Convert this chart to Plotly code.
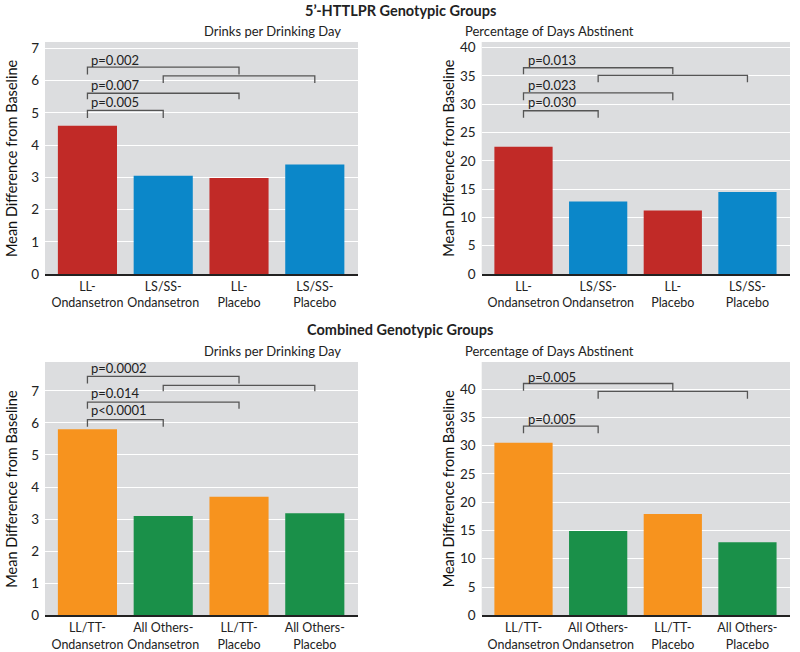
import plotly.graph_objects as go

# ---------------- data ----------------
top_categories = ["LL-<br>Ondansetron", "LS/SS-<br>Ondansetron", "LL-<br>Placebo", "LS/SS-<br>Placebo"]
bottom_categories = ["LL/TT-<br>Ondansetron", "All Others-<br>Ondansetron", "LL/TT-<br>Placebo", "All Others-<br>Placebo"]

top_drinks = [4.6, 3.05, 2.98, 3.4]
top_abstinent = [22.5, 12.8, 11.2, 14.5]
bottom_drinks = [5.8, 3.1, 3.7, 3.18]
bottom_abstinent = [30.5, 14.9, 17.9, 12.9]

top_colors = ["#c12a27", "#0b87c9", "#c12a27", "#0b87c9"]
bottom_colors = ["#f7931e", "#1a9049", "#f7931e", "#1a9049"]

# brackets: (x_start_index, x_end_index, y_level, y_drop)
br_top_drinks = [(0, 1, 5.08, 4.84), (0, 2, 5.61, 5.42), (0, 2, 6.42, 6.19), (1, 3, 6.15, 5.93)]
lab_top_drinks = [("p=0.005", 5.33), ("p=0.007", 5.86), ("p=0.002", 6.64)]

br_top_abst = [(0, 1, 28.85, 27.6), (0, 2, 32.0, 30.7), (0, 2, 36.45, 35.3), (1, 3, 35.1, 33.9)]
lab_top_abst = [("p=0.030", 30.4), ("p=0.023", 33.4), ("p=0.013", 37.8)]

br_bot_drinks = [(0, 1, 6.10, 5.88), (0, 2, 6.65, 6.44), (0, 2, 7.45, 7.23), (1, 3, 7.17, 6.99)]
lab_bot_drinks = [("p<0.0001", 6.40), ("p=0.014", 6.93), ("p=0.0002", 7.70)]

br_bot_abst = [(0, 1, 33.45, 32.2), (0, 2, 41.0, 39.7), (1, 3, 39.6, 38.3)]
lab_bot_abst = [("p=0.005", 34.7), ("p=0.005", 42.2)]

FONT = "Lato"
BG = "#dcdddf"
LINE = "#555555"
TXT = "#222"
W, H = 800, 652


def px_x(p):
    return p / W


def px_y(p):
    return 1 - p / H


XL = [px_x(45), px_x(358)]
XR = [px_x(481.7), px_x(790)]
YT = [px_y(274), px_y(42)]
YB = [px_y(615.3), px_y(362)]

panels = [
    # (values, colors, cats, brackets, labels, yrange, dtick, xdomain, ydomain, title)
    (top_drinks, top_colors, top_categories, br_top_drinks, lab_top_drinks, [0, 7.2], 1,
     XL, YT, "Drinks per Drinking Day"),
    (top_abstinent, top_colors, top_categories, br_top_abst, lab_top_abst, [0, 41], 5,
     XR, YT, "Percentage of Days Abstinent"),
    (bottom_drinks, bottom_colors, bottom_categories, br_bot_drinks, lab_bot_drinks, [0, 7.9], 1,
     XL, YB, "Drinks per Drinking Day"),
    (bottom_abstinent, bottom_colors, bottom_categories, br_bot_abst, lab_bot_abst, [0, 44.8], 5,
     XR, YB, "Percentage of Days Abstinent"),
]

fig = go.Figure()
annotations = []
layout = {}

for i, (vals, cols, cats, brs, labs, yr, dt, xd, yd, title) in enumerate(panels):
    n = "" if i == 0 else str(i + 1)
    xa, ya = "x" + n, "y" + n
    xs = list(range(len(vals)))
    fig.add_trace(go.Bar(x=xs, y=vals, marker=dict(color=cols, line=dict(width=0)),
                         width=0.78, xaxis=xa, yaxis=ya, showlegend=False))
    # brackets
    for (a, b, yl, yd_) in brs:
        fig.add_trace(go.Scatter(x=[a, a, b, b], y=[yd_, yl, yl, yd_], mode="lines",
                                 line=dict(color=LINE, width=1.3), xaxis=xa, yaxis=ya,
                                 showlegend=False, hoverinfo="skip"))
    for (txt, yy) in labs:
        annotations.append(dict(x=0, y=yy, xref=xa, yref=ya, text=txt, showarrow=False,
                                xanchor="left", yanchor="middle", xshift=2,
                                font=dict(family=FONT, size=13, color=TXT)))
    layout["xaxis" + n] = dict(domain=xd, anchor=ya, range=[-0.56, 3.57], automargin=False,
                               tickvals=xs, ticktext=cats, showgrid=False, zeroline=False,
                               showline=True, linecolor="#222", linewidth=2, tickangle=0,
                               tickfont=dict(family=FONT, size=12.5, color=TXT), ticks="")
    layout["yaxis" + n] = dict(domain=yd, anchor=xa, range=yr, dtick=dt, showgrid=True,
                               automargin=False,
                               gridcolor="white", gridwidth=1.3, zeroline=False,
                               tickfont=dict(family=FONT, size=13.5, color=TXT),
                               ticklabelstandoff=5, fixedrange=True)
    # subplot title
    annotations.append(dict(x=(xd[0] + xd[1]) / 2, y=yd[1], xref="paper", yref="paper",
                            text=title, showarrow=False, yanchor="bottom", yshift=1,
                            font=dict(family=FONT, size=13, color=TXT)))
    # y axis title
    annotations.append(dict(x=xd[0], y=(yd[0] + yd[1]) / 2, xref="paper", yref="paper",
                            text="Mean Difference from Baseline", showarrow=False,
                            textangle=-90, xanchor="center", yanchor="middle", xshift=-33,
                            font=dict(family=FONT, size=14.5, color="#111")))

annotations.append(dict(x=0.5, y=px_y(10), xref="paper", yref="paper", yanchor="middle",
                        text="<b>5’-HTTLPR Genotypic Groups</b>", showarrow=False,
                        font=dict(family=FONT, size=14.5, color=TXT)))
annotations.append(dict(x=0.5, y=px_y(329), xref="paper", yref="paper", yanchor="middle",
                        text="<b>Combined Genotypic Groups</b>", showarrow=False,
                        font=dict(family=FONT, size=14.5, color=TXT)))

fig.update_layout(**layout)
fig.update_layout(width=W, height=H, margin=dict(l=0, r=0, t=0, b=0),
                  paper_bgcolor="white", plot_bgcolor=BG, bargap=0.2,
                  annotations=annotations, font=dict(family=FONT))

fig.write_html("out.html", config={"displayModeBar": False},
               post_script="document.body.style.margin='0';")
